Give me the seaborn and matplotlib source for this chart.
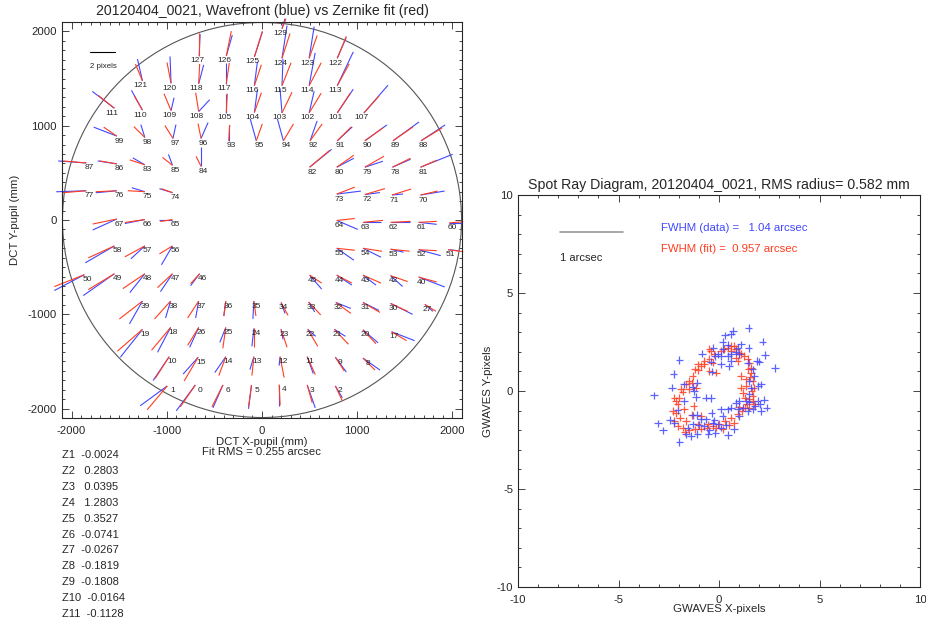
import numpy as np
import pandas as pd
import matplotlib
matplotlib.use('Agg')
import matplotlib.pyplot as plt
from matplotlib.collections import LineCollection
from matplotlib.patches import Circle
import seaborn as sns

# Wavefront spots: id, pupil position (mm)
spot_id = [129, 127, 126, 125, 124, 123, 122,
           121, 120, 118, 117, 116, 115, 114, 113,
           111, 110, 109, 108, 105, 104, 103, 102, 101, 107,
           99, 98, 97, 96, 93, 95, 94, 92, 91, 90, 89, 88,
           87, 86, 83, 85, 84, 82, 80, 79, 78, 81,
           77, 76, 75, 74, 73, 72, 71, 70,
           67, 66, 65, 64, 63, 62, 61, 60,
           58, 57, 56, 55, 54, 53, 52, 51,
           50, 49, 48, 47, 46, 45, 44, 43, 42, 40,
           39, 38, 37, 36, 35, 34, 33, 32, 31, 30, 27,
           19, 18, 26, 25, 24, 23, 22, 21, 20, 17,
           10, 15, 14, 13, 12, 11, 9, 8,
           1, 0, 6, 5, 4, 3, 2]
spot_x = [210, -660, -375, -80, 210, 495, 790,
          -1255, -955, -665, -375, -80, 210, 495, 790,
          -1550, -1255, -955, -665, -375, -80, 210, 495, 790, 1070,
          -1525, -1230, -935, -640, -350, -60, 225, 505, 790, 1080, 1375, 1670,
          -1845, -1525, -1230, -940, -640, 500, 785, 1080, 1370, 1665,
          -1845, -1525, -1230, -940, 785, 1080, 1365, 1665,
          -1525, -1230, -940, 785, 1060, 1350, 1645, 1965,
          -1550, -1230, -940, 785, 1060, 1350, 1645, 1955,
          -1865, -1550, -1230, -940, -655, 500, 785, 1060, 1350, 1645,
          -1255, -960, -665, -380, -85, 200, 490, 775, 1060, 1350, 1710,
          -1255, -960, -665, -380, -85, 200, 480, 760, 1060, 1360,
          -975, -670, -380, -85, 190, 475, 770, 1060,
          -995, -700, -410, -110, 180, 475, 770]
spot_y = [2030, 1740, 1740, 1730, 1715, 1715, 1715,
          1475, 1450, 1445, 1445, 1425, 1425, 1425, 1425,
          1185, 1165, 1160, 1150, 1140, 1140, 1135, 1135, 1135, 1135,
          890, 875, 865, 865, 840, 840, 840, 840, 840, 840, 840, 840,
          605, 595, 585, 580, 570, 560, 560, 560, 560, 560,
          310, 310, 300, 290, 275, 270, 265, 265,
          10, 5, 5, -5, -25, -25, -25, -30,
          -275, -275, -275, -300, -300, -310, -315, -315,
          -580, -570, -570, -570, -570, -585, -585, -585, -590, -605,
          -860, -860, -860, -860, -860, -875, -870, -875, -875, -885, -895,
          -1160, -1140, -1140, -1140, -1150, -1160, -1160, -1160, -1165, -1185,
          -1450, -1455, -1450, -1450, -1450, -1450, -1455, -1465,
          -1760, -1750, -1750, -1750, -1745, -1750, -1760]

# measured shifts (blue) and Zernike fit shifts (red); the 2-pixel bar is 24.5 units
data_dx = [3, 1, 6, 8, 5, 5, 9,
           -5, -1, 5, 0, 3, 1, 6, 16,
           -22, -11, 3, 11, 0, 3, -2, 5, 16, 24,
           -23, -4, 3, 7, 0, -6, -6, 7, 15, 22, 26, 24,
           -28, -19, -12, -4, 0, 22, 17, 18, 18, 32,
           -30, -21, -13, -13, 24, 15, 11, 24,
           -24, -20, -13, 21, 18, 19, 18, 13,
           -29, -14, -11, 17, 18, 13, 22, 10,
           -30, -31, -15, -12, -9, 12, 15, 13, 12, 26,
           -13, -5, -3, -2, -1, 4, 6, 15, 16, 22, 8,
           -22, -13, -9, -6, -2, 2, 8, 11, 15, 23,
           -16, -15, -11, -4, -1, 6, 11, 17,
           -27, -19, -10, -3, 0, 8, 7]
data_dy = [10, 22, 21, 25, 33, 32, 21,
           22, 27, 19, 21, 24, 27, 33, 34,
           17, 20, 13, 12, 19, 23, 25, 22, 24, 28,
           9, 13, 14, 16, 16, 22, 22, 20, 14, 16, 19, 16,
           2, 3, 7, 11, 19, 18, 9, 6, 8, 13,
           -1, -2, 4, 4, 3, 2, 1, 4,
           -11, -4, 0, -9, 0, 0, -2, 0,
           -17, -13, -19, -12, -9, -3, -6, -1,
           -16, -22, -19, -18, -12, -14, -10, -10, -11, -10,
           -23, -17, -17, -15, -18, -11, -10, -6, -8, -11, -7,
           -28, -25, -20, -15, -18, -10, -7, -7, -13, -9,
           -24, -17, -16, -13, -9, -17, -15, -12,
           -20, -26, -23, -24, -22, -23, -12]
fit_dx = [4, 0, 5, 8, 8, 8, 9,
          -7, -4, 1, 3, 7, 9, 12, 12,
          -16, -8, -7, -3, 1, 7, 10, 12, 13, 15,
          -13, -11, -8, -3, 1, 6, 10, 12, 14, 18, 20, 21,
          -23, -17, -15, -10, -5, 20, 17, 19, 18, 16,
          -24, -21, -17, -11, 18, 20, 19, 17,
          -24, -20, -12, 18, 20, 20, 18, 14,
          -26, -20, -13, 18, 19, 19, 18, 15,
          -30, -26, -22, -15, -9, 12, 15, 18, 17, 18,
          -23, -16, -11, -2, 2, 7, 12, 15, 17, 17, 11,
          -25, -19, -11, -3, 0, 6, 10, 14, 13, 15,
          -14, -14, -7, -2, 4, 8, 9, 12,
          -20, -15, -11, -3, 1, 5, 7]
fit_dy = [10, 23, 25, 26, 25, 23, 22,
          17, 21, 20, 21, 21, 23, 23, 22,
          13, 14, 17, 19, 19, 20, 21, 20, 20, 17,
          9, 11, 13, 15, 16, 17, 17, 17, 14, 13, 14, 13,
          2, 3, 5, 8, 10, 17, 12, 11, 9, 7,
          -2, -1, 1, 4, 7, 6, 6, 4,
          -5, -3, -2, 2, 2, 1, 1, 1,
          -12, -11, -8, -2, -3, -2, -1, -2,
          -12, -16, -15, -14, -10, -8, -8, -8, -6, -5,
          -18, -18, -17, -15, -15, -13, -13, -11, -10, -8, -7,
          -22, -23, -18, -21, -19, -18, -17, -15, -14, -9,
          -22, -24, -19, -19, -21, -18, -14, -12,
          -24, -22, -22, -22, -21, -18, -15]

zern_names = ['Z1', 'Z2', 'Z3', 'Z4', 'Z5', 'Z6', 'Z7', 'Z8', 'Z9', 'Z10', 'Z11']
zern_vals = [-0.0024, 0.2803, 0.0395, 1.2803, 0.3527, -0.0741, -0.0267,
             -0.1819, -0.1808, -0.0164, -0.1128]

# Spot ray diagram points (GWAVES pixels)
data_sx = [1.47, 0.71, 0.31, 0.59, 2.17, 0.18, -0.28, 0.43, 0.93, 1.47, 2.29, -0.85,
           -1.97, -0.07, 0.10, 0.46, 0.84, 1.01, 1.89, 2.01, 0.59, 2.78, -2.26, -0.35,
           0.51, -1.73, -1.07, -1.31, 2.09, 1.51, -2.34, -3.22, -1.15, -0.40, 2.25, 1.01,
           1.51, 2.06, 2.37, 0.84, 0.43, 0.10, -0.37, -2.06, 1.42, 1.01, -2.44, -3.02,
           -2.80, -1.31, -0.90, -0.65, -1.31, -0.98, -0.73, -0.32, -0.07, 0.10, 0.76, 0.46,
           -1.97, -1.64, -1.39, -1.07, -0.48, -0.18, -1.73, 1.67, 1.18, 2.09, 1.92, 1.51,
           1.59, 1.42, 1.67, 1.76, 0.18, 0.59, -0.20, 1.09, 0.10, -0.40, -1.23, -0.65,
           0.59, 0.18, 0.93, -2.22, -1.56, -1.10, -0.53, -0.23, 0.35, 1.79, 1.96, 1.34]
data_sy = [3.20, 3.06, 2.84, 2.89, 2.52, 2.50, 2.21, 2.35, 2.21, 2.18, 1.84, 1.91,
           1.57, 1.87, 1.79, 1.79, 2.01, 1.87, 1.53, 1.50, 1.53, 1.16, 0.88, 0.99,
           1.26, 0.34, 0.43, 0.20, 0.34, 0.51, 0.17, -0.22, -0.31, -0.37, -0.44, -0.51,
           -0.54, -0.68, -0.85, -0.61, -0.94, -0.94, -1.11, -0.99, -1.02, -1.28, -1.48, -1.65,
           -2.01, -1.24, -1.45, -1.45, -1.70, -1.73, -1.79, -1.62, -1.70, -1.87, -1.96, -2.26,
           -2.59, -2.21, -2.30, -2.18, -2.01, -2.13, -0.51, -0.94, -0.85, -1.02, -0.51, -0.17,
           0.17, 1.45, 1.10, 0.76, 2.13, 1.87, 1.79, 2.38, 1.36, 1.50, 0.00, -0.34,
           -0.85, -1.28, -0.94, -1.62, -1.87, -1.22, -2.18, -1.50, -1.73, -0.77, 0.26, -0.51]
fit_sx = [0.76, 0.84, 1.09, 1.26, 1.42, 1.51, 1.59, 1.59, 1.67, 1.72, 1.62, 1.67,
          1.51, 1.39, 1.29, 1.12, 0.93, 0.59, 0.29, 0.01, -0.32, -0.60, -0.90, -1.19,
          -1.48, -1.68, -1.81, -2.06, -2.22, -2.14, -2.06, -1.97, -1.81, -1.64, -1.48, -1.31,
          -1.03, -0.76, -0.48, -0.23, 0.10, 0.43, 0.59, 1.01, -0.48, -0.32, -0.15, -1.19,
          -1.36, -1.15, -1.26, -1.48, -1.89, -2.14, -2.22, -2.31, -1.93, -1.73, -1.36, -0.90,
          -1.64, -1.06, -0.56, -0.15, 0.18, 0.51, 0.76, 1.09, 1.18, 1.09, 1.34, 1.34,
          0.84, 0.93, 1.67, 1.76, 1.51, 0.59, 0.26, -0.48, -0.40, -0.73, -0.90, -1.06,
          1.56, 1.46, 1.29, 1.01]
fit_sy = [2.30, 2.13, 1.90, 1.79, 1.62, 1.45, 1.19, 0.94, 0.51, 0.17, 0.00, -0.26,
          -0.43, -0.68, -0.85, -1.02, -1.19, -1.36, -1.53, -1.67, -1.79, -1.87, -1.92, -1.96,
          -2.01, -2.08, -1.87, -1.79, -1.53, -1.11, -0.68, -0.34, -0.03, 0.34, 0.51, 0.76,
          1.05, 1.36, 1.62, 1.87, 2.04, 2.21, 2.30, 1.96, 1.02, 1.45, 0.94, 1.10,
          0.43, 0.17, -0.77, 0.09, 0.09, -0.51, -0.34, -1.02, -1.36, -0.94, -1.22, -1.28,
          -1.53, -1.70, -1.70, -1.87, -1.96, -1.73, -1.62, 0.17, -0.09, 0.77, 0.59, 0.26,
          1.70, 1.53, -0.51, -0.68, -0.85, 2.04, 2.13, 2.13, 2.04, 1.53, 1.28, 1.36,
          0.71, 1.10, -0.34, -0.82]

BLUE = '#4048ff'
RED = '#ff3c20'

sns.set_style('ticks')
plt.rcParams['font.family'] = ['Liberation Sans', 'DejaVu Sans']
plt.rcParams['axes.linewidth'] = 0.8
plt.rcParams['axes.unicode_minus'] = False

fig = plt.figure(figsize=(9.26, 6.23), dpi=100)
ax1 = fig.add_axes([62 / 926, 1 - 418 / 623, 400 / 926, 396 / 623])
ax2 = fig.add_axes([518 / 926, 1 - 587 / 623, 402 / 926, 392 / 623])

# ---- left: wavefront vectors ----
unit = 10.53  # mm per vector unit
x = np.array(spot_x, float)
y = np.array(spot_y, float)
seg_b = [[(a, b), (a + u * unit, b + v * unit)] for a, b, u, v in zip(x, y, data_dx, data_dy)]
seg_r = [[(a, b), (a + u * unit, b + v * unit)] for a, b, u, v in zip(x, y, fit_dx, fit_dy)]
ax1.add_collection(LineCollection(seg_b, colors=BLUE, linewidths=0.8, clip_on=False))
ax1.add_collection(LineCollection(seg_r, colors=RED, linewidths=0.8, clip_on=False))
ax1.add_patch(Circle((0, 0), 2095, fill=False, ec='#555555', lw=0.8))

shift = {1: -5.0, 2: -2.7, 3: 2.1}
for sid, a, b in zip(spot_id, x, y):
    s = str(sid)
    ax1.annotate(s, (a, b), xytext=(-shift[len(s)] * 0.72, -5 * 0.72), textcoords='offset points',
                 ha='center', va='center', fontsize=6)

ax1.plot([-1804, -1545], [1783, 1783], color='k', lw=0.8)
ax1.text(-1804, 1632, '2 pixels', ha='left', va='center', fontsize=5.7)

ax1.set_xlim(-2100, 2100)
ax1.set_ylim(-2100, 2100)
ax1.set_xticks([-2000, -1000, 0, 1000, 2000])
ax1.set_yticks([-2000, -1000, 0, 1000, 2000])
ax1.set_xticks(np.arange(-2100, 2101, 100), minor=True)
ax1.set_yticks(np.arange(-2100, 2101, 100), minor=True)
ax1.set_title('20120404_0021, Wavefront (blue) vs Zernike fit (red)', fontsize=10.2, pad=5)
ax1.set_xlabel('DCT X-pupil (mm)\nFit RMS = 0.255 arcsec', fontsize=8.2, linespacing=1.0)
ax1.set_ylabel('DCT Y-pupil (mm)', fontsize=8.2)
ax1.xaxis.set_label_coords(0.5, -0.048)
ax1.yaxis.set_label_coords(-0.106, 0.5)

for i, (n, v) in enumerate(zip(zern_names, zern_vals)):
    fig.text(62 / 926, 1 - (455 + 15.9 * i) / 623, f'{n}  {v:7.4f}', ha='left', va='center', fontsize=8)

# ---- right: spot diagram ----
spots = pd.DataFrame({
    'x': fit_sx + data_sx,
    'y': fit_sy + data_sy,
    'kind': ['fit'] * len(fit_sx) + ['data'] * len(data_sx),
})
sns.scatterplot(data=spots, x='x', y='y', hue='kind', palette={'data': BLUE, 'fit': RED},
                marker='+', s=30, linewidth=0.9, alpha=0.85, legend=False, ax=ax2)

ax2.plot([-7.9, -4.76], [8.13, 8.13], color='#999999', lw=1.2)
ax2.text(-7.9, 6.77, '1 arcsec', ha='left', va='center', fontsize=8)
ax2.text(-2.9, 8.3, 'FWHM (data) =   1.04 arcsec', color=BLUE, ha='left', va='center', fontsize=8.2)
ax2.text(-2.9, 7.26, 'FWHM (fit) =  0.957 arcsec', color=RED, ha='left', va='center', fontsize=8.2)

ax2.set_xlim(-10, 10)
ax2.set_ylim(-10, 10)
ax2.set_xticks([-10, -5, 0, 5, 10])
ax2.set_yticks([-10, -5, 0, 5, 10])
ax2.set_xticks(np.arange(-10, 11, 1), minor=True)
ax2.set_yticks(np.arange(-10, 11, 1), minor=True)
ax2.set_title('Spot Ray Diagram, 20120404_0021, RMS radius= 0.582 mm', fontsize=10.2, pad=4)
ax2.set_xlabel('GWAVES X-pixels', fontsize=8.2)
ax2.set_ylabel('GWAVES Y-pixels', fontsize=8.2)
ax2.xaxis.set_label_coords(0.5, -0.044)
ax2.yaxis.set_label_coords(-0.063, 0.5)

for ax in (ax1, ax2):
    ax.tick_params(which='both', direction='in', top=True, right=True, width=0.6, labelsize=8.2)
    ax.tick_params(which='major', length=5)
    ax.tick_params(which='minor', length=2.5)
    for sp in ax.spines.values():
        sp.set_visible(True)
ax1.tick_params(axis='x', pad=6)
ax1.tick_params(axis='y', pad=3.6)
ax2.tick_params(axis='x', pad=6)
ax2.tick_params(axis='y', pad=3.6)

fig.savefig('out.png', dpi=100)
